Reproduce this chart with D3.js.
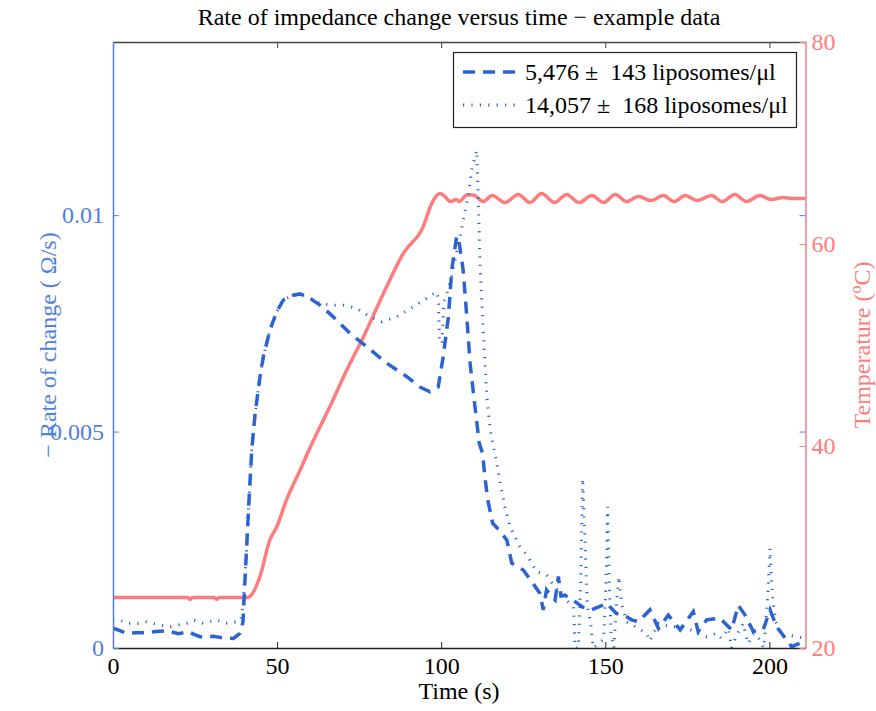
<!DOCTYPE html>
<html>
<head>
<meta charset="utf-8">
<script src="https://cdn.jsdelivr.net/npm/d3@7/dist/d3.min.js"></script>
<style>
  body { margin: 0; background: #fff; }
  svg { display: block; font-family: "Liberation Serif", "Times New Roman", serif; }
</style>
</head>
<body>
<svg id="chart" width="876" height="711"></svg>
<script>
// dashed series: 5,476 liposomes/ul (time in s, rate in ohm/s)
const timeDashed = [0, 2.1, 4.2, 7, 10.3, 13, 16.4, 20, 23, 24.5, 26.5, 30.6, 33, 36.7, 38.7, 39.6, 40.5, 41.5, 42.3,
  43.3, 44.8, 45.8, 47.8, 49.9, 51.9, 54.9, 57, 60, 63.5, 67.1, 72.2, 77.3, 83.4, 89.5, 93.5, 96.6, 99.1,
  100.6, 102.2, 103.2, 104.7, 105.2, 106.7, 107.8, 108.8, 110.3, 111.6, 112.6, 113.3, 114.2, 115.7, 118, 120,
  121.5, 125, 127.6, 130.1, 131.1, 132.1, 133.5, 134.7, 135.7, 136.5, 137.7, 140.8, 143, 145.8, 148, 150.4,
  153.4, 156.5, 158, 160.1, 163.6, 166.2, 169.2, 172.8, 176.8, 178.3, 180.9, 184.9, 188.5, 190.5, 192.6,
  195.1, 198.1, 200.2, 202.2, 205.3, 206.8, 209.3, 211];
const rateDashed = [0.00046, 0.0004, 0.00034, 0.00035, 0.00035, 0.00038, 0.0004, 0.00033, 0.00038, 0.00032, 0.00026,
  0.00027, 0.00024, 0.00022, 0.00034, 0.0006, 0.002, 0.0035, 0.0046,
  0.00542, 0.00627, 0.00673, 0.00734, 0.00777, 0.00804, 0.00815, 0.00818, 0.00808, 0.0079, 0.00765, 0.00727,
  0.00696, 0.00658, 0.00627, 0.00603, 0.00592, 0.00603,
  0.00673, 0.00765, 0.00873, 0.0095, 0.00951, 0.00873, 0.00765, 0.00658, 0.00557, 0.00473, 0.0045, 0.00396,
  0.00342, 0.00288, 0.0027, 0.00249,
  0.00196, 0.0018, 0.00153, 0.00126, 0.00088, 0.00134, 0.0012, 0.00111, 0.00165, 0.0012, 0.00122, 0.00107,
  0.00095, 0.00088, 0.00095, 0.00103,
  0.0008, 0.00072, 0.00065, 0.00061, 0.00088, 0.00045, 0.00076, 0.00042, 0.00084, 0.00038, 0.00065, 0.00069,
  0.00042, 0.00099, 0.00076,
  0.00038, 0.00042, 0.00088, 0.00049, 0.00018, 0.00003, 0.00011, 0.00018];

// dotted series: 14,057 liposomes/ul
const timeDotted = [0, 2.1, 4.2, 7.7, 9.8, 14.3, 17.4, 19.9, 22.5, 24.5, 27.5, 31.6, 34.1, 37.7, 39, 39.6, 40.5, 41.5,
  42.3, 43.3, 44.8, 45.8, 47.8, 49.9, 51.9, 54.9, 57, 60, 63.1, 67.1, 70.2, 74.2, 78.3, 81.9, 86.4, 91.5, 95.6,
  98.6, 99.1, 99.5, 100.3, 100.8, 102.2, 103.5, 104.7, 106.7, 108.3, 109.3, 110.8, 111.3, 111.8, 112.8, 113.9,
  115, 115.9, 116.9, 117.9, 119.4, 121, 124, 126.5, 129.1, 132.1, 134.2, 137.2, 140.3, 140.8, 141.8, 142.5,
  143.1, 143.8, 144.5, 145.5, 146.3, 148, 149.5, 150.2, 150.7, 151.2, 151.8, 152.6, 153.3, 154.1, 155, 156.5,
  158, 160, 162.6, 163.5, 166.2, 169.7, 173.3, 175.8, 177.8, 180.9, 183.9, 185.4, 187.5, 188.5, 190, 192,
  193.5, 195.1, 197, 198.3, 199.5, 200.2, 200.9, 202, 204.2, 205.8, 208.3, 211];
const rateDotted = [0.00065, 0.00065, 0.00057, 0.00057, 0.00061, 0.00053, 0.00049, 0.00053, 0.00057, 0.00065, 0.00057,
  0.00065, 0.00057, 0.00061, 0.00065, 0.001, 0.002, 0.0035,
  0.0046, 0.00542, 0.00627, 0.00673, 0.00734, 0.00777, 0.00804, 0.00815, 0.00818, 0.00808, 0.00796, 0.00792,
  0.00792, 0.00785, 0.00765, 0.00754, 0.00765, 0.00788, 0.00808,
  0.00823, 0.0081, 0.00705, 0.00705, 0.008, 0.0083, 0.0087, 0.00912, 0.00988, 0.0105, 0.01104, 0.0115, 0.0104,
  0.0089, 0.00735, 0.0058,
  0.005, 0.00465, 0.00427, 0.00384, 0.00326, 0.0028, 0.00234, 0.00211, 0.00176, 0.00169, 0.00145, 0.00118,
  0.00095, 0, 0, 0.0015,
  0.00392, 0.0025, 0.001, 0.0006, 0, 0.0001, 0.0002, 0.0015, 0.00326, 0.0015, 0.0003, 0, 0.0009, 0.00165,
  0.001, 0.0006,
  0.00055, 0.00045, 0.00034, 0.00016, 0.00057, 0.00049, 0.00049, 0.00042, 0.00035, 0.00026, 0.00034, 0.00022,
  0.00045, 0, 0.0003, 0.00057,
  0.0001, 0.00034, 0.0002, 0, 0.0012, 0.0023, 0.0012, 0.0006, 0.00026, 0.0003, 0.00026, 0.00022];

// temperature (deg C)
const timeTemp = [0, 22.8, 23.5, 24.2, 30.9, 31.6, 32.3, 40.7, 41.7, 44.8, 47.8, 49.9, 52.9, 57, 60, 66.1, 71.2,
  76.3, 82.4, 88.5, 94.5, 97.1, 99.6, 101.2, 102.7, 104.7, 105.5, 107.8, 109.8, 112.8, 115.5, 119.5, 123.5,
  127, 130.6, 134.5, 138.2, 142, 145.9, 149.5, 153, 156.5, 160.1, 164, 167.7, 171, 174.3, 178, 182.4, 185.5,
  189.5, 193, 197.1, 200.5, 204.2, 207, 211];
const tempValues = [25, 25, 24.8, 25, 25, 24.8, 25, 25, 25.1, 27.1, 30.7, 32, 34.7, 37.6, 39.8, 43.9, 47.5,
  50.8, 55.1, 59.1, 61.7, 64, 65, 64.7, 64.2, 64.4, 64.2, 64.85, 64.85, 64.2, 64.8, 64.1, 64.9,
  64.1, 65, 64.1, 64.9, 64.1, 64.8, 64.1, 64.9, 64.2, 64.7, 64.3, 64.8, 64.2, 64.8, 64.3, 64.8, 64.2,
  64.9, 64.2, 64.8, 64.4, 64.6, 64.5, 64.5];

const xTicks = [0, 50, 100, 150, 200];
const rateTicks = [0, 0.005, 0.01];
const tempTicks = [20, 40, 60, 80];
const legendLabels = ['5,476 \u00b1  143 liposomes/\u03bcl', '14,057 \u00b1  168 liposomes/\u03bcl'];

const blue = '#2c63d3';
const axisBlue = '#4f80e2';
const pink = '#ff7c7c';
const serif = '"Liberation Serif", "Times New Roman", serif';
const fontSize = 24;

const svg = d3.select('#chart');
const plotLeft = 113, plotRight = 805.5, plotTop = 42, plotBottom = 648;

const x = d3.scaleLinear().domain([0, 211]).range([plotLeft, plotRight]);
const yRate = d3.scaleLinear().domain([0, 0.014]).range([plotBottom, plotTop]);
const yTemp = d3.scaleLinear().domain([20, 80]).range([plotBottom, plotTop]);

svg.append('defs').append('clipPath').attr('id', 'plot-clip')
  .append('rect').attr('x', plotLeft).attr('y', plotTop - 2)
  .attr('width', plotRight - plotLeft).attr('height', plotBottom - plotTop + 2);

// title
svg.append('text')
  .attr('x', 459).attr('y', 25)
  .attr('text-anchor', 'middle')
  .attr('font-size', fontSize)
  .text('Rate of impedance change versus time \u2212 example data');

// data lines
const plot = svg.append('g').attr('clip-path', 'url(#plot-clip)');

const tempLine = d3.line().x(d => x(d[0])).y(d => yTemp(d[1])).curve(d3.curveMonotoneX);
plot.append('path')
  .datum(d3.zip(timeTemp, tempValues))
  .attr('d', tempLine)
  .attr('fill', 'none')
  .attr('stroke', pink)
  .attr('stroke-width', 3.5)
  .attr('stroke-linejoin', 'round');

const rateLine = d3.line().x(d => x(d[0])).y(d => yRate(d[1]));
plot.append('path')
  .datum(d3.zip(timeDashed, rateDashed))
  .attr('d', rateLine)
  .attr('fill', 'none')
  .attr('stroke', blue)
  .attr('stroke-width', 3.5)
  .attr('stroke-dasharray', '12,8');

plot.append('path')
  .datum(d3.zip(timeDotted, rateDotted))
  .attr('d', rateLine)
  .attr('fill', 'none')
  .attr('stroke', blue)
  .attr('stroke-width', 3)
  .attr('stroke-dasharray', '1.2,7.2');

// axes
function styleAxis(g, color, width) {
  g.attr('font-family', serif).attr('font-size', fontSize);
  g.select('.domain').attr('stroke', color).attr('stroke-width', width);
  g.selectAll('.tick line').attr('stroke', color);
}

const xBottom = svg.append('g')
  .attr('transform', `translate(0,${plotBottom})`)
  .call(d3.axisBottom(x).tickValues(xTicks).tickFormat(d3.format('d')).tickSizeInner(-6).tickSizeOuter(0).tickPadding(9));
styleAxis(xBottom, '#222', 1.5);
xBottom.selectAll('text').attr('fill', '#000');

const xTop = svg.append('g')
  .attr('transform', `translate(0,${plotTop})`)
  .call(d3.axisTop(x).tickValues(xTicks).tickFormat('').tickSizeInner(-6).tickSizeOuter(0));
styleAxis(xTop, '#444', 1.5);

const yLeft = svg.append('g')
  .attr('transform', `translate(${plotLeft},0)`)
  .call(d3.axisLeft(yRate).tickValues(rateTicks).tickFormat(d => String(d)).tickSizeInner(-6).tickSizeOuter(0).tickPadding(9));
styleAxis(yLeft, axisBlue, 1.5);
yLeft.selectAll('text').attr('fill', axisBlue);

// mirrored rate ticks on the right edge
svg.append('g')
  .attr('transform', `translate(${plotRight},0)`)
  .call(d3.axisRight(yRate).tickValues(rateTicks.filter(d => d > 0)).tickFormat('').tickSizeInner(-6).tickSizeOuter(0))
  .call(g => g.select('.domain').remove())
  .selectAll('.tick line').attr('stroke', axisBlue);

const yRight = svg.append('g')
  .attr('transform', `translate(${plotRight},0)`)
  .call(d3.axisRight(yTemp).tickValues(tempTicks).tickSizeInner(-6).tickSizeOuter(0).tickPadding(6));
styleAxis(yRight, '#ef7f8c', 1.5);
yRight.selectAll('.tick line').attr('stroke', pink);
yRight.selectAll('text').attr('fill', pink);

// axis titles
svg.append('text')
  .attr('x', 459).attr('y', 699)
  .attr('text-anchor', 'middle')
  .attr('font-size', fontSize)
  .text('Time (s)');

svg.append('text')
  .attr('transform', `translate(56,${(plotTop + plotBottom) / 2}) rotate(-90)`)
  .attr('text-anchor', 'middle')
  .attr('font-size', fontSize)
  .attr('fill', axisBlue)
  .style('white-space', 'pre')
  .text('\u2212 Rate of change ( \u03a9/s)');

const tempLabel = svg.append('text')
  .attr('transform', `translate(870,${(plotTop + plotBottom) / 2}) rotate(-90)`)
  .attr('text-anchor', 'middle')
  .attr('font-size', fontSize)
  .attr('fill', pink);
tempLabel.append('tspan').text('Temperature (');
tempLabel.append('tspan').attr('font-size', 16).attr('dy', -9).text('o');
tempLabel.append('tspan').attr('dy', 9).text('C)');

// legend
const legend = svg.append('g');
legend.append('rect')
  .attr('x', 453.5).attr('y', 52.5).attr('width', 343).attr('height', 75)
  .attr('fill', '#fff').attr('stroke', '#222').attr('stroke-width', 1.2);

const legendStyles = [
  { width: 3.5, dash: '12,8' },
  { width: 3, dash: '1.2,7.2' }
];
legendLabels.forEach((label, i) => {
  const yy = 72 + i * 33;
  legend.append('line')
    .attr('x1', 463).attr('x2', 519).attr('y1', yy).attr('y2', yy)
    .attr('stroke', blue)
    .attr('stroke-width', legendStyles[i].width)
    .attr('stroke-dasharray', legendStyles[i].dash);
  legend.append('text')
    .attr('x', 525).attr('y', yy + 8)
    .attr('font-size', fontSize)
    .style('white-space', 'pre')
    .text(label);
});
</script>
</body>
</html>
